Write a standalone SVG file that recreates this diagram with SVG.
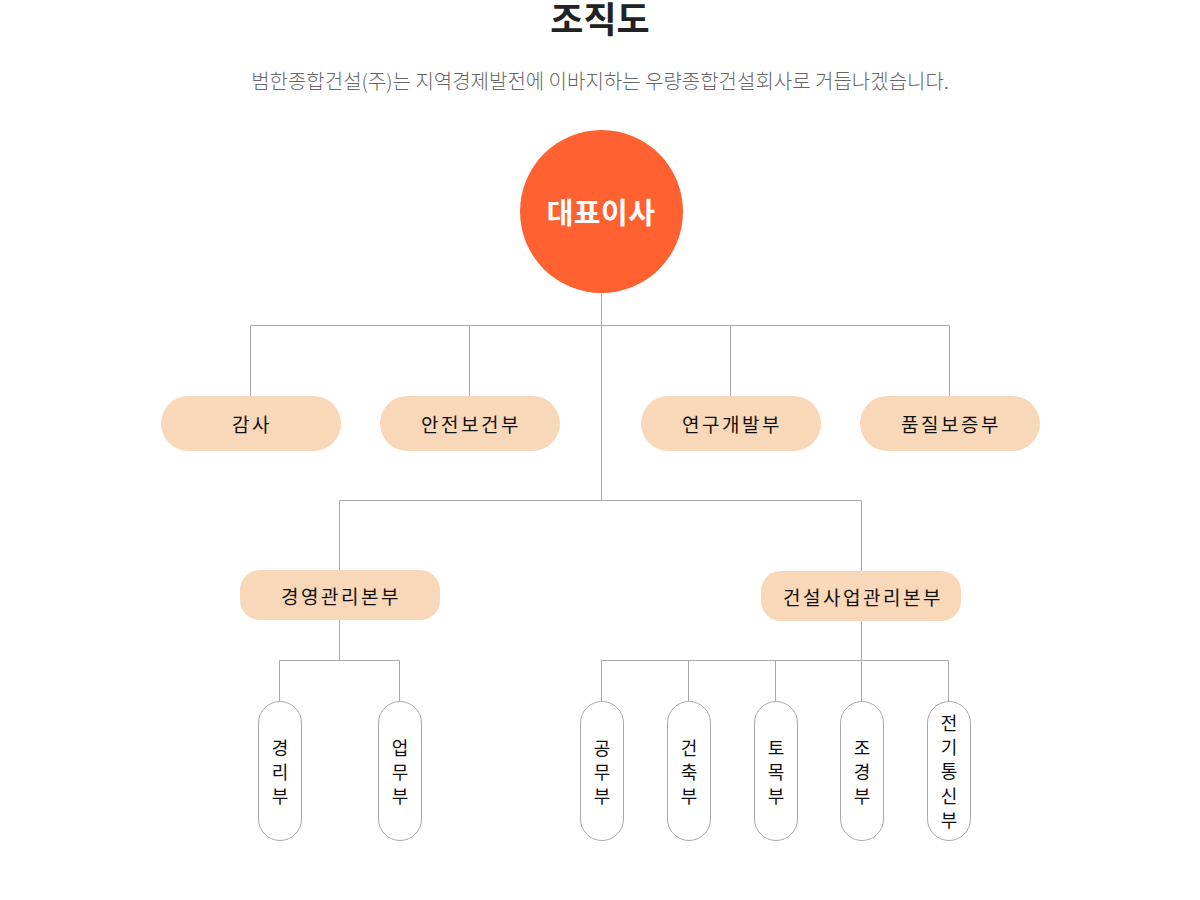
<svg xmlns="http://www.w3.org/2000/svg" width="1200" height="900" viewBox="0 0 1200 900">
<style>
text{font-family:"Noto Sans CJK KR","Noto Sans",sans-serif;text-anchor:middle;dominant-baseline:central}
.ln{stroke:#aaaaaa;stroke-width:1;fill:none}
.pill{fill:#f8d8b9}
.vp{fill:#ffffff;stroke:#aaaaaa;stroke-width:1}
.pt{font-size:19px;fill:#111;letter-spacing:2.5px}
.vt{font-size:18px;fill:#111}
</style>
<rect width="1200" height="900" fill="#ffffff"/>
<text x="600" y="17" font-size="36" font-weight="bold" fill="#222">조직도</text>
<text x="600" y="80" font-size="20" font-weight="300" fill="#666">범한종합건설(주)는 지역경제발전에 이바지하는 우량종합건설회사로 거듭나겠습니다.</text>
<g id="connectors">
<path class="ln" d="M601.5 293V500.5M250.5 325.5H949.5M250.5 325.5V396M469.5 325.5V396M730.5 325.5V396M949.5 325.5V396"/>
<path class="ln" d="M339.5 500.5H861.5M339.5 500.5V570M861.5 500.5V571"/>
<path class="ln" d="M339.5 620V660.5M279.5 660.5H399.5M279.5 660.5V701M399.5 660.5V701"/>
<path class="ln" d="M861.5 621V701M601.5 660.5H948.5M601.5 660.5V701M688.5 660.5V701M775.5 660.5V701M948.5 660.5V701"/>
</g>
<g id="ceo"><circle cx="601.5" cy="211.5" r="81.5" fill="#ff6131"/><text x="601" y="211" font-size="29" font-weight="bold" fill="#fff" letter-spacing="0.5">대표이사</text></g>
<g id="audit"><rect class="pill" x="161" y="396" width="180" height="55" rx="27.5"/><text class="pt" x="252" y="423">감사</text></g>
<g id="safety"><rect class="pill" x="380" y="396" width="180" height="55" rx="27.5"/><text class="pt" x="471" y="423">안전보건부</text></g>
<g id="rnd"><rect class="pill" x="641" y="396" width="180" height="55" rx="27.5"/><text class="pt" x="732" y="423">연구개발부</text></g>
<g id="qa"><rect class="pill" x="860" y="396" width="180" height="55" rx="27.5"/><text class="pt" x="951" y="423">품질보증부</text></g>
<g id="mgmt"><rect class="pill" x="240" y="570" width="200" height="50" rx="20"/><text class="pt" x="341" y="595">경영관리본부</text></g>
<g id="cm"><rect class="pill" x="761" y="571" width="200" height="50" rx="20"/><text class="pt" x="863" y="596">건설사업관리본부</text></g>
<g id="acct"><rect class="vp" x="258.5" y="701.5" width="43" height="139" rx="21.5"/><text class="vt" x="280" y="747">경</text><text class="vt" x="280" y="771">리</text><text class="vt" x="280" y="795">부</text></g>
<g id="biz"><rect class="vp" x="378.5" y="701.5" width="43" height="139" rx="21.5"/><text class="vt" x="400" y="747">업</text><text class="vt" x="400" y="771">무</text><text class="vt" x="400" y="795">부</text></g>
<g id="works"><rect class="vp" x="580.5" y="701.5" width="43" height="139" rx="21.5"/><text class="vt" x="602" y="747">공</text><text class="vt" x="602" y="771">무</text><text class="vt" x="602" y="795">부</text></g>
<g id="arch"><rect class="vp" x="667.5" y="701.5" width="43" height="139" rx="21.5"/><text class="vt" x="689" y="747">건</text><text class="vt" x="689" y="771">축</text><text class="vt" x="689" y="795">부</text></g>
<g id="civil"><rect class="vp" x="754.5" y="701.5" width="43" height="139" rx="21.5"/><text class="vt" x="776" y="747">토</text><text class="vt" x="776" y="771">목</text><text class="vt" x="776" y="795">부</text></g>
<g id="land"><rect class="vp" x="840.5" y="701.5" width="43" height="139" rx="21.5"/><text class="vt" x="862" y="747">조</text><text class="vt" x="862" y="771">경</text><text class="vt" x="862" y="795">부</text></g>
<g id="elec"><rect class="vp" x="927.5" y="701.5" width="43" height="139" rx="21.5"/><text class="vt" x="949" y="722">전</text><text class="vt" x="949" y="746">기</text><text class="vt" x="949" y="770">통</text><text class="vt" x="949" y="795">신</text><text class="vt" x="949" y="819">부</text></g>
</svg>
